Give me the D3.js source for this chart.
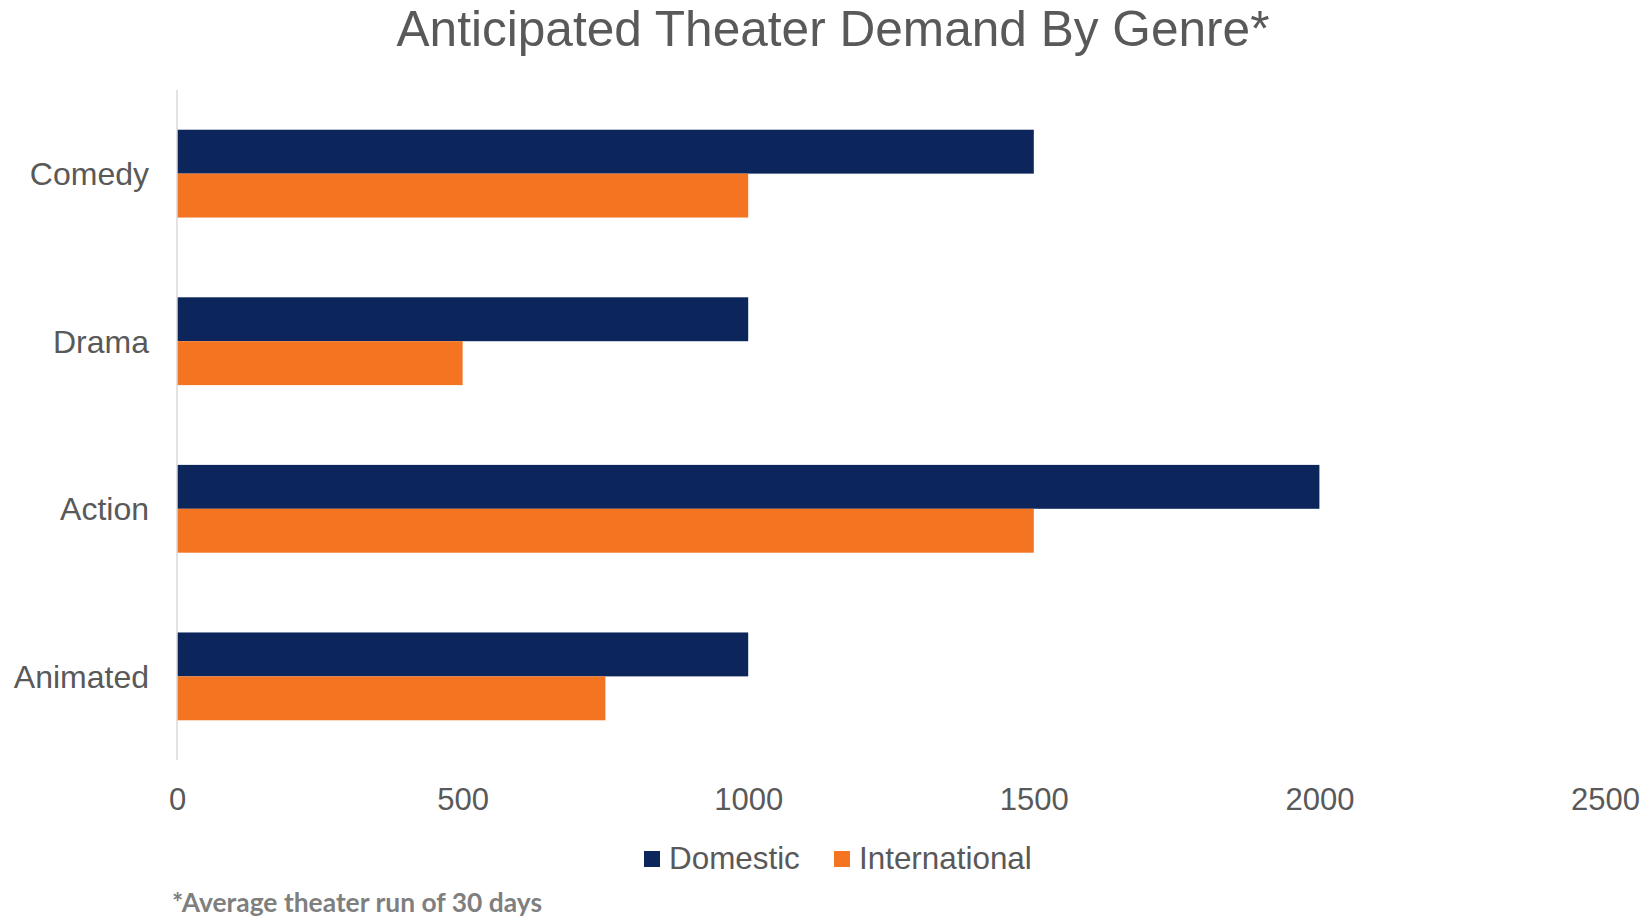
<!DOCTYPE html>
<html>
<head>
<meta charset="utf-8">
<script src="https://cdn.jsdelivr.net/npm/d3@7"></script>
<style>
  html, body { margin: 0; padding: 0; background: #ffffff; }
  svg { display: block; }
</style>
</head>
<body>
<svg id="chart" width="1650" height="920"></svg>
<script>
// Genres, top to bottom
const genres = ["Comedy", "Drama", "Action", "Animated"];
const seriesNames = ["Domestic", "International"];
const domestic = [1500, 1000, 2000, 1000];
const international = [1000, 500, 1500, 750];
const xTicks = [0, 500, 1000, 1500, 2000, 2500];
const seriesColors = ["#0c255b", "#f47421"];

const svg = d3.select("#chart");
const textColor = "#595959";
const fontFamily = "'Liberation Sans', Arial, sans-serif";

const plot = { left: 177, right: 1605, top: 90, bottom: 760 };

const x = d3.scaleLinear().domain([0, 2500]).range([plot.left, plot.right]);
const y = d3.scaleBand().domain(genres).range([plot.top, plot.bottom])
  .paddingInner(0.476).paddingOuter(0.237);
const ySub = d3.scaleBand().domain(seriesNames).range([0, y.bandwidth()]);

const rows = genres.map((g, i) => ({
  genre: g,
  values: [
    { series: "Domestic", value: domestic[i] },
    { series: "International", value: international[i] }
  ]
}));

// Title
svg.append("text")
  .attr("x", 833).attr("y", 46)
  .attr("text-anchor", "middle")
  .attr("font-family", fontFamily)
  .attr("font-size", 49.6)
  .attr("fill", textColor)
  .text("Anticipated Theater Demand By Genre*");

// Bars
const groups = svg.append("g").selectAll("g").data(rows).join("g")
  .attr("transform", d => `translate(0,${y(d.genre)})`);

groups.selectAll("rect").data(d => d.values).join("rect")
  .attr("x", x(0))
  .attr("y", d => ySub(d.series))
  .attr("width", d => x(d.value) - x(0))
  .attr("height", ySub.bandwidth())
  .attr("fill", (d, i) => seriesColors[i]);

// Vertical baseline at zero
svg.append("line")
  .attr("x1", x(0)).attr("x2", x(0))
  .attr("y1", plot.top).attr("y2", plot.bottom)
  .attr("stroke", "#d9d9d9").attr("stroke-width", 1.5);

// Category axis labels
const yAxis = d3.axisLeft(y).tickSize(0).tickPadding(28);
const yG = svg.append("g").attr("transform", `translate(${x(0)},0)`).call(yAxis);
yG.select(".domain").remove();
yG.selectAll("text")
  .attr("font-family", fontFamily)
  .attr("font-size", 32)
  .attr("fill", textColor)
  .attr("dy", "0.36em");

// Value axis labels
const xAxis = d3.axisBottom(x).tickValues(xTicks).tickSize(0).tickPadding(0)
  .tickFormat(d3.format("d"));
const xG = svg.append("g").attr("transform", "translate(0,788)").call(xAxis);
xG.select(".domain").remove();
xG.selectAll("text")
  .attr("font-family", fontFamily)
  .attr("font-size", 31)
  .attr("fill", textColor)
  .attr("dy", "0.71em");

// Legend
const legendItems = [
  { name: "Domestic", sx: 644, tx: 669 },
  { name: "International", sx: 834, tx: 859 }
];
const legend = svg.append("g");
legend.selectAll("rect").data(legendItems).join("rect")
  .attr("x", d => d.sx).attr("y", 851)
  .attr("width", 16).attr("height", 16)
  .attr("fill", (d, i) => seriesColors[i]);
legend.selectAll("text").data(legendItems).join("text")
  .attr("x", d => d.tx).attr("y", 869)
  .attr("font-family", fontFamily)
  .attr("font-size", 31.4)
  .attr("fill", textColor)
  .text(d => d.name);

// Footnote
svg.append("text")
  .attr("x", 172).attr("y", 912)
  .attr("font-family", "Lato, 'Open Sans', sans-serif")
  .attr("font-weight", "bold")
  .attr("font-size", 27)
  .attr("fill", "#7f7f7f")
  .attr("textLength", 370)
  .attr("lengthAdjust", "spacingAndGlyphs")
  .text("*Average theater run of 30 days");
</script>
</body>
</html>
